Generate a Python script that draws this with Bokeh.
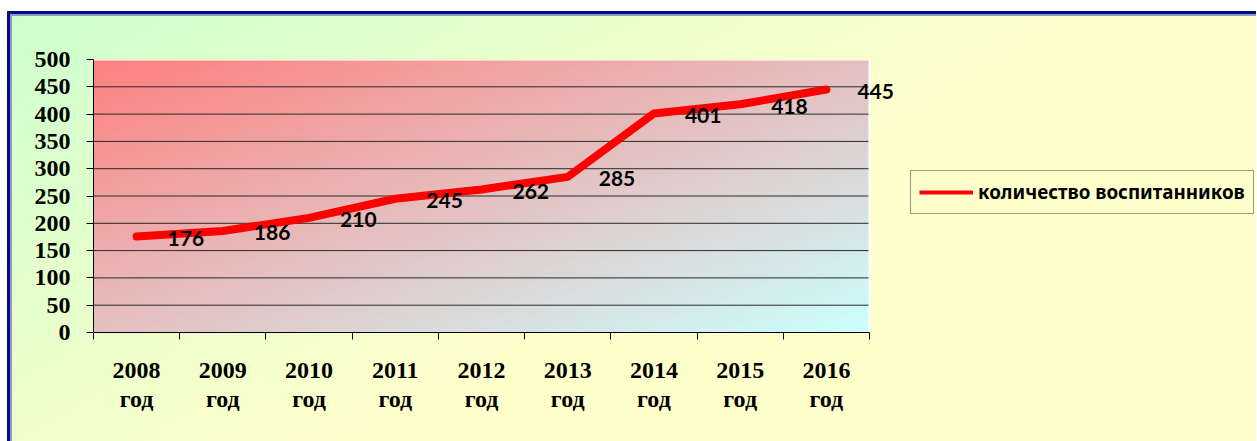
import numpy as np
from bokeh.plotting import figure
from bokeh.models import Range1d, FixedTicker, Legend, LegendItem, ColumnDataSource
from bokeh.embed import file_html
from bokeh.resources import INLINE
from bokeh.core.properties import value

# ---- data ----
years = ["2008", "2009", "2010", "2011", "2012", "2013", "2014", "2015", "2016"]
year_suffix = "год"
counts = [176, 186, 210, 245, 262, 285, 401, 418, 445]
y_ticks = [0, 50, 100, 150, 200, 250, 300, 350, 400, 450, 500]
series_name = "количество воспитанников"

n = len(years)
xs = [i + 0.5 for i in range(n)]
y_max = y_ticks[-1]

# layout constants (pixels)
FIG_W, FIG_H = 1249, 430
LEFT = 86
PLOT_W = 776                      # width of the shaded plot area
FRAME_W = FIG_W - LEFT            # frame extends to the right edge (legend lives there)
x_end = n * FRAME_W / PLOT_W

p = figure(width=FIG_W, height=FIG_H, output_backend="svg", toolbar_location=None,
           x_range=Range1d(0, x_end), y_range=Range1d(0, y_max),
           min_border_left=LEFT, min_border_right=0, min_border_top=48,
           min_border_bottom=109)
p.background_fill_alpha = 0
p.border_fill_alpha = 0
p.outline_line_color = None
p.styles = {
    "margin-top": "11px",
    "margin-left": "7px",
    "background": "linear-gradient(150deg, #CCFFCC 0%, #FFFFCC 55%)",
    "box-shadow": "inset 3px 3px 0 0 #0a0a80, inset 5px 5px 0 0 #8a9acb",
}

# plot-area gradient (style only)
ny, nx = 120, 360
u = np.linspace(0, 1, nx)[None, :]
v = 1 - np.linspace(0, 1, ny)[:, None]
t = (u + v) / 2
c0 = np.array([255, 128, 128], dtype=float)
c1 = np.array([204, 255, 255], dtype=float)
rgb = c0[None, None, :] + (c1 - c0)[None, None, :] * t[..., None]
img = np.zeros((ny, nx), dtype=np.uint32)
view = img.view(dtype=np.uint8).reshape((ny, nx, 4))
view[..., 0] = rgb[..., 0].astype(np.uint8)
view[..., 1] = rgb[..., 1].astype(np.uint8)
view[..., 2] = rgb[..., 2].astype(np.uint8)
view[..., 3] = 255
p.image_rgba(image=[img], x=0, y=0, dw=n, dh=y_max, level="image")

# grid lines limited to the plot area
p.xgrid.visible = False
p.ygrid.visible = False
grid_y = y_ticks[1:-1]
p.segment(x0=[0] * len(grid_y), x1=[n] * len(grid_y), y0=grid_y, y1=grid_y,
          line_color="#2a2a2a", line_width=1, level="underlay")
# white edge of the plot area (top and right)
p.segment(x0=[0, n], x1=[n, n], y0=[y_max, 0], y1=[y_max, y_max],
          line_color="white", line_width=2, level="underlay")

# x axis
p.xaxis.bounds = (0, n)
p.xaxis.ticker = FixedTicker(ticks=xs, minor_ticks=list(range(n + 1)))
p.xaxis.major_label_overrides = {x: f"{y}\n{year_suffix}" for x, y in zip(xs, years)}
p.xaxis.major_tick_out = 0
p.xaxis.major_tick_in = 0
p.xaxis.minor_tick_out = 7
p.xaxis.minor_tick_in = 0
p.xaxis.minor_tick_line_color = "black"
p.xaxis.major_label_standoff = 17
p.xaxis.major_label_text_font = "Liberation Serif"
p.xaxis.major_label_text_font_style = "bold"
p.xaxis.major_label_text_font_size = "24px"
p.xaxis.major_label_text_line_height = 1.15
p.xaxis.major_label_text_color = "black"
p.xaxis.axis_line_color = "black"

# y axis
p.yaxis.ticker = FixedTicker(ticks=y_ticks)
p.yaxis.major_tick_out = 7
p.yaxis.major_tick_in = 0
p.yaxis.minor_tick_out = 0
p.yaxis.minor_tick_in = 0
p.yaxis.major_tick_line_color = "black"
p.yaxis.major_label_standoff = 16
p.yaxis.major_label_text_font = "Liberation Serif"
p.yaxis.major_label_text_font_style = "bold"
p.yaxis.major_label_text_font_size = "24px"
p.yaxis.major_label_text_color = "black"
p.yaxis.axis_line_color = "black"

# series
p.line(xs, counts, line_color="#FF0000", line_width=8, line_cap="round", line_join="round")

src = ColumnDataSource(dict(x=xs, y=counts, t=[str(c) for c in counts]))
p.text("x", "y", text="t", source=src, x_offset=31, y_offset=2,
       text_align="left", text_baseline="middle", text_font=value("Lato"),
       text_font_style="bold", text_font_size="21px", text_color="black")

# legend: a thinner line sample (single point -> draws nothing on the plot)
leg_r = p.line(x=xs[:1], y=counts[:1], line_color="#FF0000", line_width=4)
legend = Legend(items=[LegendItem(label=series_name, renderers=[leg_r])],
                location=(817, 118), orientation="vertical",
                glyph_width=54, glyph_height=20, label_standoff=5, padding=8,
                spacing=0, margin=0,
                label_text_font="Noto Sans", label_text_font_style="bold",
                label_text_font_size="18.8px", label_text_color="black",
                border_line_color="#333333", border_line_width=1,
                background_fill_alpha=0)
p.add_layout(legend)

open("out.html", "w").write(file_html(p, INLINE))
